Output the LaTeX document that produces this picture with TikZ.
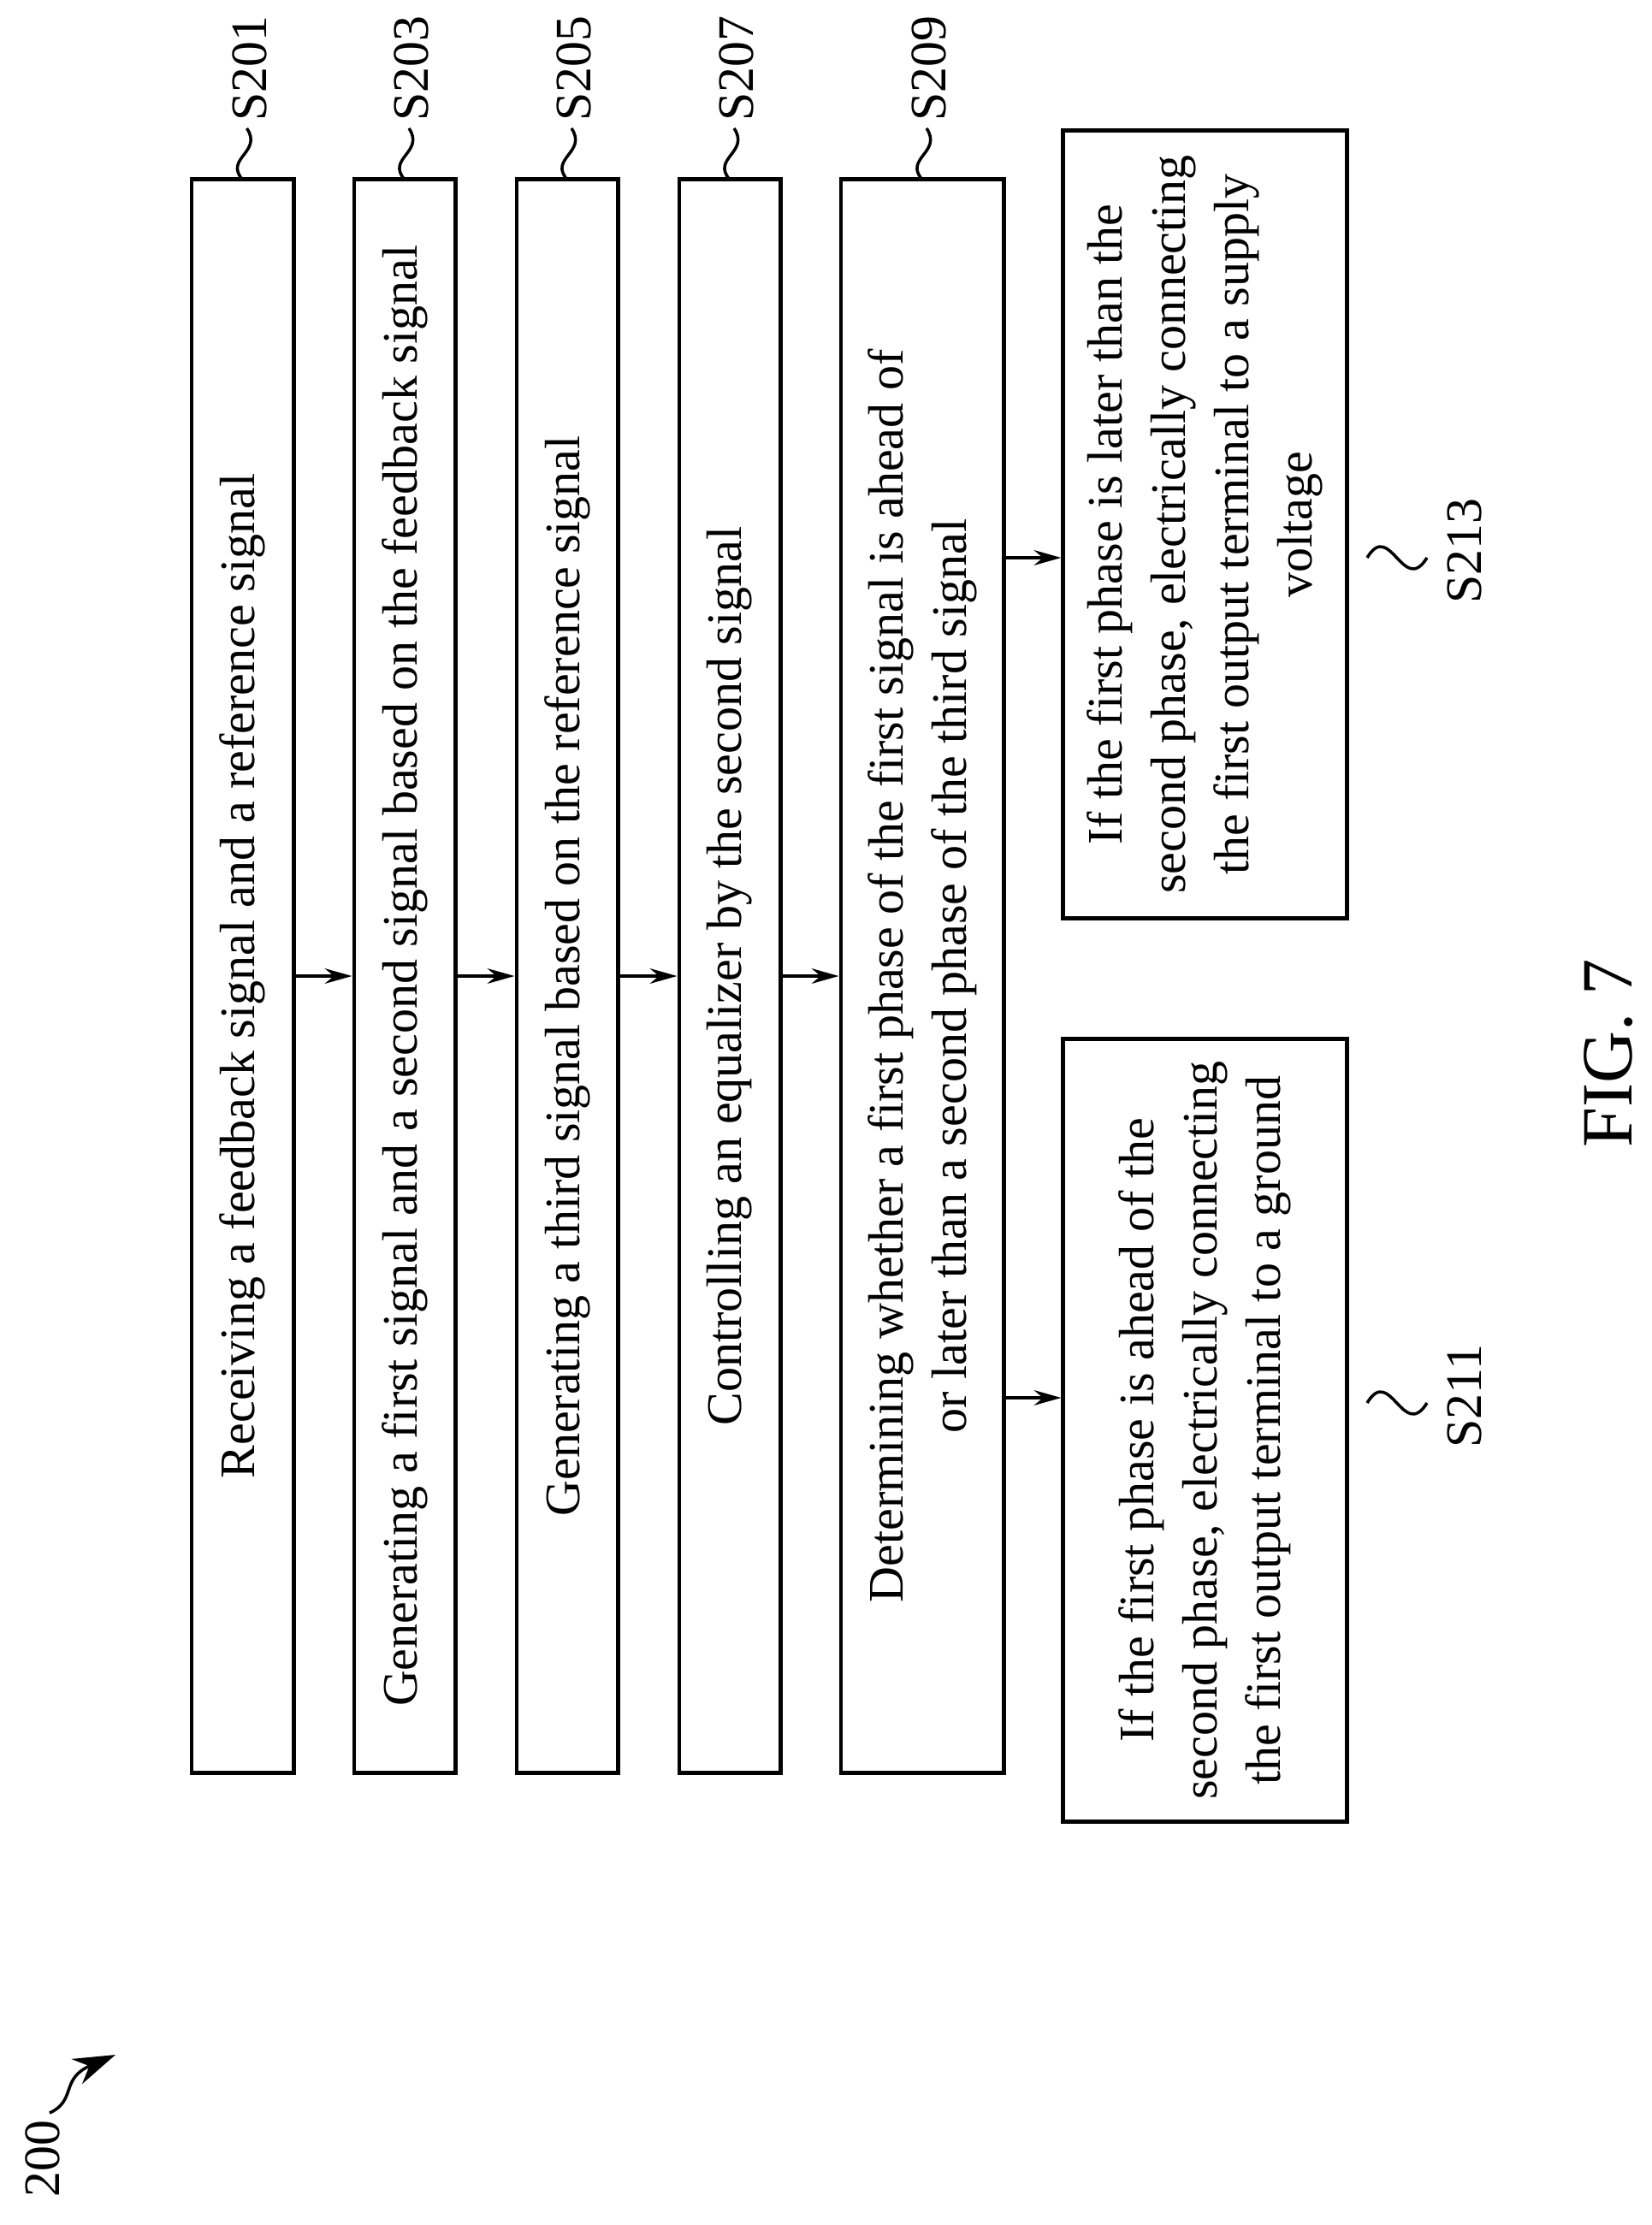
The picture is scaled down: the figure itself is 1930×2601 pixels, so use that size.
\documentclass[tikz,border=0pt]{standalone}
\usepackage{fontspec}
\setmainfont{Liberation Serif}
\usetikzlibrary{arrows.meta}
\tikzset{
	stepbox/.style={draw,line width=1.4pt,rotate=90,align=center,inner sep=0pt,font=\fontsize{16.5}{21}\selectfont},
	lbl/.style={rotate=90,inner sep=0pt,font=\fontsize{17}{20}\selectfont},
	flow/.style={-{Stealth[length=9pt,width=5pt]},line width=1.2pt},
}
\begin{document}
\begin{tikzpicture}[x=0.01cm,y=-0.01cm]
\useasboundingbox (0,0) rectangle (1930,2601);
\node[stepbox,minimum width=18.62cm,minimum height=1.19cm] (s201) at (283.5,1141){Receiving a feedback signal and a reference signal};
\node[stepbox,minimum width=18.62cm,minimum height=1.18cm] (s203) at (473,1141){Generating a first signal and a second signal based on the feedback signal};
\node[stepbox,minimum width=18.62cm,minimum height=1.18cm] (s205) at (663,1141){Generating a third signal based on the reference signal};
\node[stepbox,minimum width=18.62cm,minimum height=1.18cm] (s207) at (853,1141){Controlling an equalizer by the second signal};
\node[stepbox,minimum width=18.62cm,minimum height=1.9cm] (s209) at (1078,1141){Determining whether a first phase of the first signal is ahead of\\or later than a second phase of the third signal};
\node[stepbox,minimum width=9.15cm,minimum height=3.31cm] (s211) at (1408.5,1672){If the first phase is ahead of the\\second phase, electrically connecting\\the first output terminal to a ground};
\node[stepbox,minimum width=9.2cm,minimum height=3.31cm] (s213) at (1408.5,613){If the first phase is later than the\\second phase, electrically connecting\\the first output terminal to a supply\\voltage};
% flow
\draw[flow] (s201.south) -- (s203.north);
\draw[flow] (s203.south) -- (s205.north);
\draw[flow] (s205.south) -- (s207.north);
\draw[flow] (s207.south) -- (s209.north);
\draw[flow] (s209.south |- 0,652) -- (s213.north |- 0,652);
\draw[flow] (s209.south |- 0,1634) -- (s211.north |- 0,1634);
% labels
\foreach\n/\x in {s201/283.5,s203/473,s205/663,s207/853,s209/1078}{
	\draw[line width=1pt] (\x,210) .. controls (\x-22,185) and (\x+24,178) .. (\x+5,150);
	\node[lbl,anchor=west] (l\n) at (\x+8,142){\MakeUppercase{\n}};
}
\foreach\n/\y in {s211/1640,s213/652}{
	\draw[line width=1pt] (1598,\y) .. controls (1625,\y-45) and (1640,\y+45) .. (1668,\y);
	\node[lbl] (l\n) at (1712,\y-8){\MakeUppercase{\n}};
}
\node[rotate=90,inner sep=0pt,font=\fontsize{24}{28}\selectfont] (fig) at (1880,1231){FIG. 7};
\node[lbl,anchor=east] (n200) at (50,2478){200};
\coordinate (a200) at (135,2402);
\draw[line width=1pt,-{Stealth[length=14pt,width=9pt]}] (58,2470) .. controls (90,2455) and (70,2430) .. (a200);
\end{tikzpicture}
\end{document}
